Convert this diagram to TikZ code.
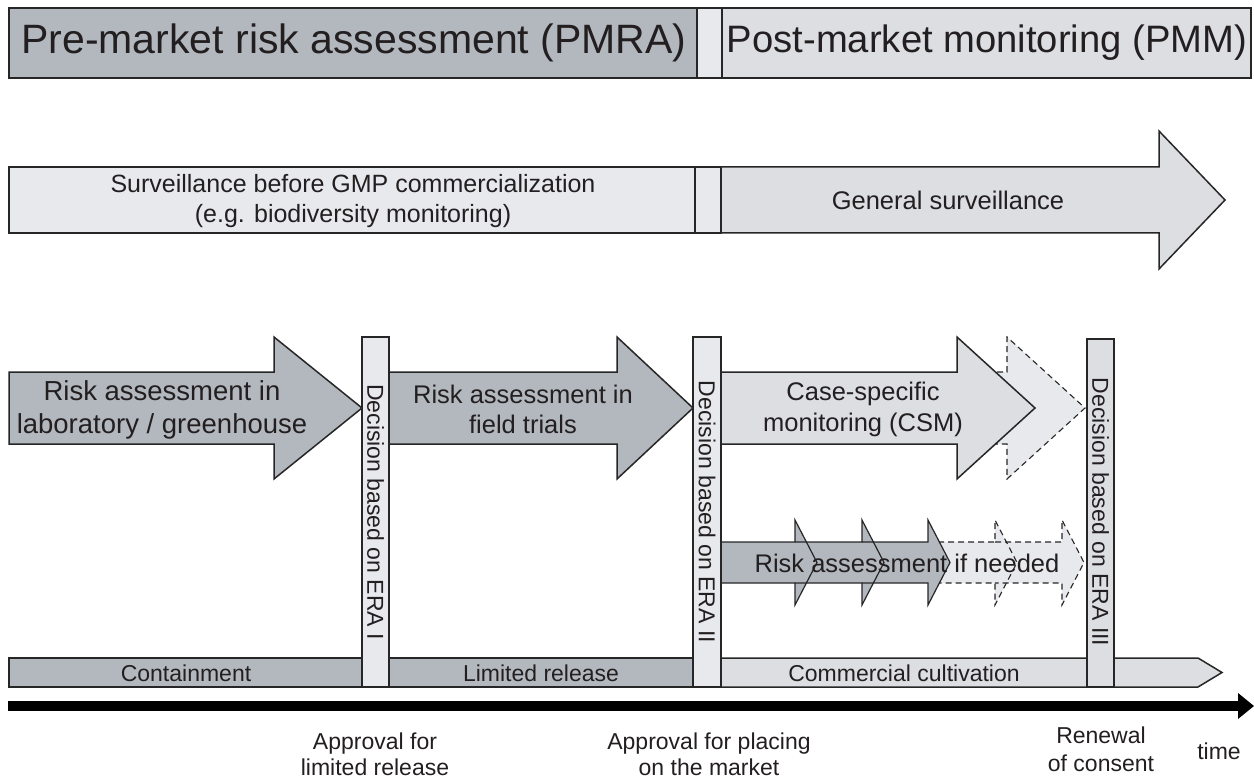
\documentclass[tikz,border=0pt]{standalone}
\usepackage{fontspec}
\setmainfont{Liberation Sans}
\definecolor{dk}{HTML}{B3B8BF}
\definecolor{md}{HTML}{DCDEE2}
\definecolor{lt}{HTML}{E8E9EC}
\definecolor{tx}{HTML}{231F20}
\newcommand\fsz[2]{\fontsize{#1}{#2}\selectfont}
\tikzset{
  box/.style={draw=black!85, line width=1.5pt, line join=miter},
  dbox/.style={draw=black!85, line width=1.1pt, dash pattern=on 6pt off 4pt},
  lbl/.style={text=tx, inner sep=0pt, align=center},
}
\begin{document}
\begin{tikzpicture}[x=1pt,y=-1pt]
\useasboundingbox (0,0) rectangle (1254,778);
% ---------- top bar
\draw[box, fill=dk] (9,8) rectangle (697,78);
\draw[box, fill=lt] (697,8) rectangle (722,78);
\draw[box, fill=md] (722,8) rectangle (1251,78);
\node[lbl, font=\fsz{41}{48}] (pmra) at (354,43) {Pre-market risk assessment (PMRA)};
\node[lbl, font=\fsz{38.2}{46}] (pmm) at (987,43) {Post-market monitoring (PMM)};
% ---------- surveillance
\draw[box, fill=lt] (9,167) rectangle (695,233);
\draw[box, fill=lt] (695,167) rectangle (721,233);
\draw[box, fill=md] (721,167) -- (1159,167) -- (1159,131) -- (1225,200) -- (1159,269) -- (1159,233) -- (721,233) -- cycle;
\node[lbl, font=\fsz{25}{30}] (sbefore) at (353,201) {Surveillance before GMP commercialization\\(e.g. biodiversity monitoring)};
\node[lbl, font=\fsz{25.5}{30}] (gens) at (948,200) {General surveillance};
% ---------- risk assessment arrows
\draw[box, fill=dk] (9,372) -- (274,372) -- (274,337) -- (362,408) -- (274,479) -- (274,444) -- (9,444) -- cycle;
\node[lbl, font=\fsz{27.5}{33}] (lab) at (162,410) {Risk assessment in\\laboratory / greenhouse};
\draw[box, fill=dk] (389,372) -- (617,372) -- (617,337) -- (693,408) -- (617,479) -- (617,444) -- (389,444) -- cycle;
\node[lbl, font=\fsz{25.5}{30}] (field) at (523,409) {Risk assessment in\\field trials};
% dashed extension of CSM
\fill[lt] (957,372) -- (1007,372) -- (1007,337) -- (1085,408) -- (1007,479) -- (1007,444) -- (957,444) -- cycle;
\draw[dbox] (957,372) -- (1007,372) -- (1007,337) -- (1085,408) -- (1007,479) -- (1007,444) -- (957,444);
\draw[box, fill=md] (721,372) -- (957,372) -- (957,337) -- (1035,408) -- (957,479) -- (957,444) -- (721,444) -- cycle;
\node[lbl, font=\fsz{25.5}{31}] (csm) at (863,409) {Case-specific\\monitoring (CSM)};
% ---------- risk assessment if needed (chevrons)
\fill[lt] (928,542) -- (995,542) -- (995,520) -- (1017,562.5) -- (995,605) -- (995,583) -- (928,583) -- cycle;
\fill[lt] (995,542) -- (1062,542) -- (1062,520) -- (1084,562.5) -- (1062,605) -- (1062,583) -- (995,583) -- cycle;
\draw[dbox] (928,542) -- (995,542) -- (995,520) -- (1017,562.5) -- (995,605) -- (995,583) -- (928,583);
\draw[dbox] (995,542) -- (1062,542) -- (1062,520) -- (1084,562.5) -- (1062,605) -- (1062,583) -- (995,583);
\fill[dk] (721,542) -- (795,542) -- (795,520) -- (817,562.5) -- (795,605) -- (795,583) -- (721,583) -- cycle;
\fill[dk] (795,542) -- (862,542) -- (862,520) -- (884,562.5) -- (862,605) -- (862,583) -- (795,583) -- cycle;
\fill[dk] (862,542) -- (928,542) -- (928,520) -- (950,562.5) -- (928,605) -- (928,583) -- (862,583) -- cycle;
\draw[box, line width=1.2pt] (721,542) -- (795,542) -- (795,520) -- (817,562.5) -- (795,605) -- (795,583) -- (721,583);
\draw[box, line width=1.2pt] (795,542) -- (862,542) -- (862,520) -- (884,562.5) -- (862,605) -- (862,583) -- (795,583);
\draw[box, line width=1.2pt] (862,542) -- (928,542) -- (928,520) -- (950,562.5) -- (928,605) -- (928,583) -- (862,583);
\node[lbl, font=\fsz{25.5}{30}] (ifneeded) at (907,563) {Risk assessment if needed};
% ---------- bottom phase bars
\draw[box, fill=dk] (9,658) rectangle (362,687);
\draw[box, fill=dk] (389,658) rectangle (693,687);
\draw[box, fill=md] (721,658) -- (1198,658) -- (1222,672.5) -- (1198,687) -- (721,687) -- cycle;
\node[lbl, font=\fsz{23}{27}] (cont) at (186,673) {Containment};
\node[lbl, font=\fsz{23}{27}] (limrel) at (541,673) {Limited release};
\node[lbl, font=\fsz{23}{27}] (comm) at (904,673) {Commercial cultivation};
% ---------- decision bars
\draw[box, fill=lt] (362,337) rectangle (389,687);
\draw[box, fill=lt] (693,337) rectangle (721,687);
\draw[box, fill=md] (1087,339) rectangle (1114,687);
\node[lbl, rotate=-90, font=\fsz{23}{27}] (era1) at (375.5,512) {Decision based on ERA I};
\node[lbl, rotate=-90, font=\fsz{23}{27}] (era2) at (707,512) {Decision based on ERA II};
\node[lbl, rotate=-90, font=\fsz{23}{27}] (era3) at (1100.5,512) {Decision based on ERA III};
% ---------- time axis
\fill[black] (8,701) rectangle (1240,711);
\fill[black] (1238,693) -- (1254,706) -- (1238,719) -- cycle;
\node[lbl, font=\fsz{23}{26}] (app1) at (375,754) {Approval for\\limited release};
\node[lbl, font=\fsz{23}{26}] (app2) at (709,754) {Approval for placing\\on the market};
\node[lbl, font=\fsz{23}{28}] (renew) at (1101,749) {Renewal\\of consent};
\node[lbl, font=\fsz{23}{26}] (time) at (1219,751) {time};
\end{tikzpicture}
\end{document}
